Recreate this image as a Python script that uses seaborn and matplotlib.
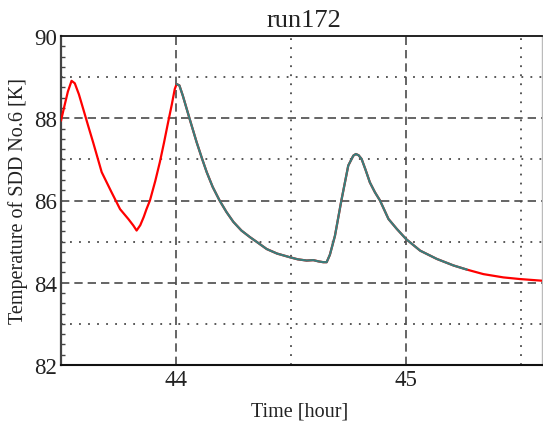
import matplotlib
matplotlib.use("Agg")
import matplotlib.pyplot as plt
from matplotlib.ticker import MultipleLocator, FixedLocator
import seaborn as sns
import pandas as pd

# ---- data ----
time_red = [43.500, 43.515, 43.530, 43.546, 43.560, 43.578, 43.597, 43.618, 43.640,
            43.677, 43.720, 43.757, 43.793, 43.815, 43.829, 43.845, 43.860, 43.872,
            43.887, 43.910, 43.930, 43.948, 43.966, 43.982, 43.995, 44.003, 44.015,
            44.030, 44.060, 44.090, 44.113, 44.134, 44.160, 44.190, 44.220, 44.250,
            44.285, 44.322, 44.360, 44.395, 44.440, 44.496, 44.530, 44.569, 44.598,
            44.620, 44.641, 44.656, 44.670, 44.692, 44.720, 44.750, 44.772, 44.783,
            44.795, 44.808, 44.825, 44.844, 44.866, 44.888, 44.925, 44.961, 45.002,
            45.063, 45.135, 45.208, 45.266, 45.338, 45.425, 45.497, 45.592]
temp_red = [87.94, 88.30, 88.65, 88.91, 88.85, 88.58, 88.22, 87.82, 87.41,
            86.69, 86.20, 85.79, 85.55, 85.39, 85.27, 85.40, 85.60, 85.79,
            86.00, 86.47, 86.93, 87.40, 87.90, 88.33, 88.71, 88.83, 88.80,
            88.55, 87.98, 87.42, 87.03, 86.69, 86.33, 86.00, 85.72, 85.48,
            85.27, 85.11, 84.96, 84.82, 84.71, 84.62, 84.57, 84.54, 84.55,
            84.52, 84.50, 84.50, 84.68, 85.14, 86.00, 86.85, 87.09, 87.13,
            87.10, 87.01, 86.75, 86.44, 86.20, 86.00, 85.55, 85.31, 85.06,
            84.78, 84.58, 84.42, 84.32, 84.21, 84.13, 84.09, 84.05]

time_teal = [44.003, 44.015, 44.030, 44.060, 44.090, 44.113, 44.134, 44.160, 44.190,
             44.220, 44.250, 44.285, 44.322, 44.360, 44.395, 44.440, 44.496, 44.530,
             44.569, 44.598, 44.620, 44.641, 44.656, 44.670, 44.692, 44.720, 44.750,
             44.772, 44.783, 44.795, 44.808, 44.825, 44.844, 44.866, 44.888, 44.925,
             44.961, 45.002, 45.063, 45.135, 45.208, 45.266]
temp_teal = [88.83, 88.80, 88.55, 87.98, 87.42, 87.03, 86.69, 86.33, 86.00,
             85.72, 85.48, 85.27, 85.11, 84.96, 84.82, 84.71, 84.62, 84.57,
             84.54, 84.55, 84.52, 84.50, 84.50, 84.68, 85.14, 86.00, 86.85,
             87.09, 87.13, 87.10, 87.01, 86.75, 86.44, 86.20, 86.00, 85.55,
             85.31, 85.06, 84.78, 84.58, 84.42, 84.32]

x_ticks = [44, 45]
x_tick_labels = ["44", "45"]
x_minor_grid = [44.5, 45.5]
y_ticks = [82, 84, 86, 88, 90]
y_tick_labels = ["82", "84", "86", "88", "90"]
y_major_grid = [84, 86, 88]
y_minor_grid = [83, 85, 87, 89]

title = "run172"
x_label = "Time [hour]"
y_label = "Temperature of SDD No.6 [K]"

# ---- style ----
sns.set_style("white")
plt.rcParams["font.family"] = ["Liberation Serif", "DejaVu Serif"]

fig = plt.figure(figsize=(5.43, 4.27), dpi=100)
L, R, T, B = 61, 542, 37, 366
W, H = 543, 427
ax = fig.add_axes([L / W, 1 - B / H, (R - L) / W, (B - T) / H])

grid_col = "#4a4a4a"
for y in y_major_grid:
    ax.axhline(y, color=grid_col, lw=1.2, ls=(0, (5, 3)), zorder=1)
for y in y_minor_grid:
    ax.axhline(y, color=grid_col, lw=1.3, ls=(0, (1, 4)), zorder=1)
for x in x_ticks:
    ax.axvline(x, color=grid_col, lw=1.2, ls=(0, (5, 3)), zorder=1)
for x in x_minor_grid:
    ax.axvline(x, color=grid_col, lw=1.3, ls=(0, (1, 4)), zorder=1)

df_red = pd.DataFrame({"t": time_red, "T": temp_red})
df_teal = pd.DataFrame({"t": time_teal, "T": temp_teal})
sns.lineplot(data=df_red, x="t", y="T", ax=ax, color="#ff0000", lw=1.6,
             estimator=None, sort=False, zorder=3)
sns.lineplot(data=df_teal, x="t", y="T", ax=ax, color="#3a7d7b", lw=1.6,
             estimator=None, sort=False, zorder=4)

ax.set_xlim(43.5, 45.593)
ax.set_ylim(82, 90)

ax.xaxis.set_major_locator(FixedLocator(x_ticks))
ax.set_xticklabels(x_tick_labels)
ax.yaxis.set_major_locator(FixedLocator(y_ticks))
ax.set_yticklabels(y_tick_labels)
ax.yaxis.set_minor_locator(MultipleLocator(0.25))

ax.tick_params(axis="x", which="both", length=0, pad=3, labelsize=16.5,
               colors="#222222")
ax.tick_params(axis="y", which="major", direction="in", length=5, width=1.2,
               color="#444444", pad=3, labelsize=16.5, labelcolor="#222222")
ax.tick_params(axis="y", which="minor", direction="in", length=3, width=1.0,
               color="#444444", left=True)

for side, col, lw in [("left", "#444444", 1.6), ("bottom", "#111111", 1.5),
                      ("top", "#111111", 1.3), ("right", "#bbbbbb", 1.0)]:
    ax.spines[side].set_visible(True)
    ax.spines[side].set_color(col)
    ax.spines[side].set_linewidth(lw)

ax.set_xlabel(x_label, fontsize=14.5, color="#222222")
ax.set_ylabel(y_label, fontsize=14.5, color="#222222")
ax.xaxis.set_label_coords((300 - L) / (R - L), (B - 403) / (B - T))
ax.yaxis.set_label_coords((28 - L) / (R - L), (B - 201) / (B - T))
ax.set_title(title, fontsize=19, color="#222222", x=(304 - L) / (R - L), pad=7)

fig.savefig("out.png", dpi=100, facecolor="white")
